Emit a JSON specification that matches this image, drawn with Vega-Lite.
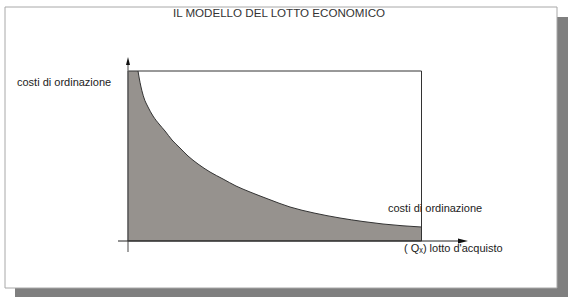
{
  "$schema": "https://vega.github.io/schema/vega-lite/v6.json",
  "width": 576,
  "height": 301,
  "padding": 0,
  "autosize": "none",
  "background": "white",
  "config": {
    "view": {"stroke": null},
    "text": {"font": "Liberation Sans", "fontSize": 11, "color": "#222"}
  },
  "data": {"values": [{}]},
  "datasets": {
    "costi": [
      {"q": 0, "c": 170},
      {"q": 10, "c": 170},
      {"q": 11, "c": 164},
      {"q": 13, "c": 154},
      {"q": 16, "c": 143},
      {"q": 20, "c": 134},
      {"q": 25, "c": 125},
      {"q": 31, "c": 117},
      {"q": 37, "c": 110},
      {"q": 44, "c": 101},
      {"q": 52, "c": 93},
      {"q": 60, "c": 85},
      {"q": 70, "c": 77},
      {"q": 82, "c": 69},
      {"q": 95, "c": 62},
      {"q": 108, "c": 55},
      {"q": 122, "c": 49},
      {"q": 140, "c": 42},
      {"q": 162, "c": 34},
      {"q": 186, "c": 28},
      {"q": 212, "c": 23},
      {"q": 235, "c": 19.5},
      {"q": 255, "c": 17},
      {"q": 275, "c": 15.2},
      {"q": 293.5, "c": 14}
    ]
  },
  "layer": [
    {
      "description": "drop shadow of the frame",
      "mark": {"type": "rect", "fill": "#7f7f7f"},
      "encoding": {
        "x": {"datum": -113, "type": "quantitative", "scale": {"domain": [-128, 448], "nice": false}, "axis": null},
        "x2": {"datum": 440},
        "y": {"datum": 224, "type": "quantitative", "scale": {"domain": [-60, 241], "nice": false}, "axis": null},
        "y2": {"datum": -56}
      }
    },
    {
      "description": "white frame",
      "mark": {"type": "rect", "fill": "white", "stroke": "#a8a8a8", "strokeWidth": 1},
      "encoding": {
        "x": {"datum": -123, "type": "quantitative", "scale": {"domain": [-128, 448], "nice": false}, "axis": null},
        "x2": {"datum": 429},
        "y": {"datum": 234, "type": "quantitative", "scale": {"domain": [-60, 241], "nice": false}, "axis": null},
        "y2": {"datum": -47}
      }
    },
    {
      "data": {"name": "costi"},
      "mark": {"type": "area", "fill": "#96928e", "interpolate": "monotone"},
      "encoding": {
        "x": {"field": "q", "type": "quantitative", "scale": {"domain": [-128, 448], "nice": false}, "axis": null},
        "y": {"field": "c", "type": "quantitative", "scale": {"domain": [-60, 241], "nice": false}, "axis": null},
        "y2": {"datum": 0}
      }
    },
    {
      "data": {"name": "costi"},
      "transform": [{"filter": "datum.q >= 10"}],
      "mark": {"type": "line", "stroke": "#333", "strokeWidth": 1, "interpolate": "monotone"},
      "encoding": {
        "x": {"field": "q", "type": "quantitative", "scale": {"domain": [-128, 448], "nice": false}, "axis": null},
        "y": {"field": "c", "type": "quantitative", "scale": {"domain": [-60, 241], "nice": false}, "axis": null}
      }
    },
    {
      "description": "bounding rectangle of the cost curve",
      "mark": {"type": "rect", "filled": false, "stroke": "#333", "strokeWidth": 1},
      "encoding": {
        "x": {"datum": 0, "type": "quantitative", "scale": {"domain": [-128, 448], "nice": false}, "axis": null},
        "x2": {"datum": 293.5},
        "y": {"datum": 0, "type": "quantitative", "scale": {"domain": [-60, 241], "nice": false}, "axis": null},
        "y2": {"datum": 170}
      }
    },
    {
      "description": "vertical axis",
      "mark": {"type": "rule", "stroke": "#666", "strokeWidth": 1.2},
      "encoding": {
        "x": {"datum": 0, "type": "quantitative", "scale": {"domain": [-128, 448], "nice": false}, "axis": null},
        "y": {"datum": -11, "type": "quantitative", "scale": {"domain": [-60, 241], "nice": false}, "axis": null},
        "y2": {"datum": 178}
      }
    },
    {
      "description": "horizontal axis",
      "mark": {"type": "rule", "stroke": "#222", "strokeWidth": 1},
      "encoding": {
        "x": {"datum": -10, "type": "quantitative", "scale": {"domain": [-128, 448], "nice": false}, "axis": null},
        "x2": {"datum": 333},
        "y": {"datum": 0, "type": "quantitative", "scale": {"domain": [-60, 241], "nice": false}, "axis": null}
      }
    },
    {
      "description": "arrow head, horizontal axis",
      "mark": {"type": "point", "shape": "M-1,-0.5L1,0L-1,0.5Z", "filled": true, "color": "#111", "size": 100, "opacity": 1},
      "encoding": {
        "x": {"datum": 335, "type": "quantitative", "scale": {"domain": [-128, 448], "nice": false}, "axis": null},
        "y": {"datum": 0, "type": "quantitative", "scale": {"domain": [-60, 241], "nice": false}, "axis": null}
      }
    },
    {
      "description": "arrow head, vertical axis",
      "mark": {"type": "point", "shape": "M-0.5,1L0,-1L0.5,1Z", "filled": true, "color": "#111", "size": 64, "opacity": 1},
      "encoding": {
        "x": {"datum": 0, "type": "quantitative", "scale": {"domain": [-128, 448], "nice": false}, "axis": null},
        "y": {"datum": 180, "type": "quantitative", "scale": {"domain": [-60, 241], "nice": false}, "axis": null}
      }
    },
    {
      "mark": {"type": "text", "align": "center", "baseline": "middle", "color": "#333", "fontSize": 11.6},
      "encoding": {
        "x": {"datum": 151, "type": "quantitative", "scale": {"domain": [-128, 448], "nice": false}, "axis": null},
        "y": {"datum": 227, "type": "quantitative", "scale": {"domain": [-60, 241], "nice": false}, "axis": null},
        "text": {"value": "IL MODELLO DEL LOTTO ECONOMICO"}
      }
    },
    {
      "mark": {"type": "text", "align": "left", "baseline": "middle"},
      "encoding": {
        "x": {"datum": -111, "type": "quantitative", "scale": {"domain": [-128, 448], "nice": false}, "axis": null},
        "y": {"datum": 158, "type": "quantitative", "scale": {"domain": [-60, 241], "nice": false}, "axis": null},
        "text": {"value": "costi di ordinazione"}
      }
    },
    {
      "mark": {"type": "text", "align": "left", "baseline": "middle"},
      "encoding": {
        "x": {"datum": 260, "type": "quantitative", "scale": {"domain": [-128, 448], "nice": false}, "axis": null},
        "y": {"datum": 32, "type": "quantitative", "scale": {"domain": [-60, 241], "nice": false}, "axis": null},
        "text": {"value": "costi di ordinazione"}
      }
    },
    {
      "mark": {"type": "text", "align": "left", "baseline": "middle"},
      "encoding": {
        "x": {"datum": 276, "type": "quantitative", "scale": {"domain": [-128, 448], "nice": false}, "axis": null},
        "y": {"datum": -8, "type": "quantitative", "scale": {"domain": [-60, 241], "nice": false}, "axis": null},
        "text": {"value": "( Qₓ) lotto d'acquisto"}
      }
    }
  ]
}
